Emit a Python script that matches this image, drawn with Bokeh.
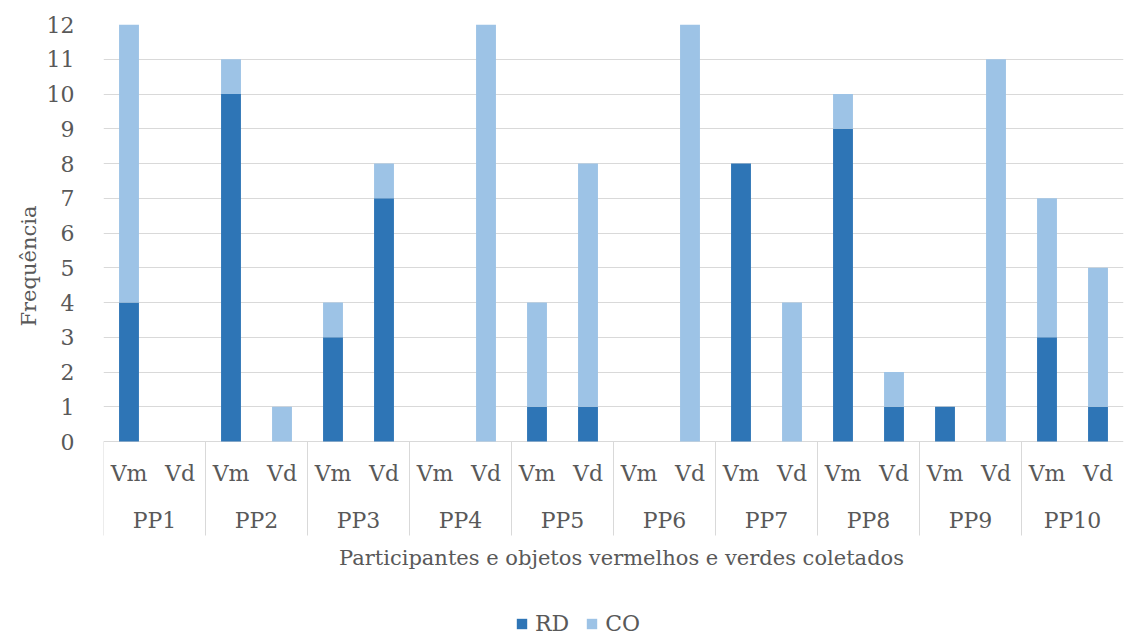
from bokeh.core.properties import value
from bokeh.embed import file_html
from bokeh.models import ColumnDataSource, FixedTicker, Legend, LegendItem, Range1d, Title
from bokeh.plotting import figure
from bokeh.resources import INLINE

# --- data -------------------------------------------------------------
participants = ["PP1", "PP2", "PP3", "PP4", "PP5", "PP6", "PP7", "PP8", "PP9", "PP10"]
object_colours = ["Vm", "Vd"]
rd_counts = [4, 0, 10, 0, 3, 7, 0, 0, 1, 1, 0, 0, 8, 0, 9, 1, 1, 0, 3, 1]
co_counts = [8, 0, 1, 1, 1, 1, 0, 12, 3, 7, 0, 12, 0, 4, 1, 1, 0, 11, 4, 4]
y_ticks = list(range(0, 13))
series_names = ["RD", "CO"]
series_colors = ["#2E75B6", "#9DC3E6"]

# --- layout -----------------------------------------------------------
W, H = 1126, 636
LEFT, RIGHT, TOP = 103, 3, 24
FRAME_W = W - LEFT - RIGHT
Y_MAX = 12
ZERO_PX = 441
PX_PER_UNIT = (ZERO_PX - TOP) / Y_MAX
SLOT_PX = FRAME_W / (len(participants) * len(object_colours))

SERIF = "DejaVu Serif"
FONT = value(SERIF)
LABEL_SIZE = "22px"
TITLE_SIZE = "21px"
TEXT_COLOR = "#595959"
GRID_COLOR = "#D9D9D9"


def y_at(px):
    return Y_MAX - (px - TOP) / PX_PER_UNIT


def x_at(px):
    return (px - LEFT) / SLOT_PX


n_slots = len(participants) * len(object_colours)
slot_x = [i + 0.5 for i in range(n_slots)]
slot_labels = [object_colours[i % 2] for i in range(n_slots)]
group_x = [2 * i + 1 for i in range(len(participants))]

source = ColumnDataSource(dict(x=slot_x, RD=rd_counts, CO=co_counts))

p = figure(
    width=W,
    height=H,
    output_backend="svg",
    toolbar_location=None,
    x_range=Range1d(0, n_slots),
    y_range=Range1d(y_at(H), Y_MAX),
    min_border_left=LEFT,
    min_border_right=RIGHT,
    min_border_top=TOP,
    min_border_bottom=0,
)
p.outline_line_color = None
p.background_fill_color = "white"
p.border_fill_color = "white"

# axes and grid
p.xaxis.visible = False
p.xgrid.visible = False
p.yaxis.ticker = FixedTicker(ticks=y_ticks)
p.yaxis.axis_line_color = None
p.yaxis.major_tick_line_color = None
p.yaxis.minor_tick_line_color = None
p.yaxis.major_label_standoff = 23
p.yaxis.major_label_text_font = SERIF
p.yaxis.major_label_text_font_size = LABEL_SIZE
p.yaxis.major_label_text_color = TEXT_COLOR
p.ygrid.ticker = FixedTicker(ticks=y_ticks)
p.ygrid.grid_line_color = GRID_COLOR
p.ygrid.grid_line_width = 1

# stacked bars
renderers = p.vbar_stack(
    series_names,
    x="x",
    width=0.39,
    color=series_colors,
    line_color=None,
    source=source,
)

# category axis: separators and two rows of labels
sep_x = [2 * i for i in range(len(participants))]
p.segment(
    x0=sep_x, y0=[0] * len(sep_x), x1=sep_x, y1=[y_at(535)] * len(sep_x),
    line_color=GRID_COLOR, line_width=1,
)
p.text(
    x=slot_x, y=[y_at(473)] * n_slots, text=slot_labels,
    text_font=FONT, text_font_size=LABEL_SIZE, text_color=TEXT_COLOR,
    text_align="center", text_baseline="middle",
)
p.text(
    x=group_x, y=[y_at(520)] * len(group_x), text=participants,
    text_font=FONT, text_font_size=LABEL_SIZE, text_color=TEXT_COLOR,
    text_align="center", text_baseline="middle",
)
p.text(
    x=[x_at(621)], y=[y_at(557)], text=["Participantes e objetos vermelhos e verdes coletados"],
    text_font=FONT, text_font_size=TITLE_SIZE, text_color=TEXT_COLOR,
    text_align="center", text_baseline="middle",
)

# vertical axis title
p.add_layout(Title(
    text="Frequência", align="left", offset=310, standoff=6,
    text_font=SERIF, text_font_size=TITLE_SIZE, text_color=TEXT_COLOR,
    text_font_style="normal",
), "left")

legend = Legend(
    items=[LegendItem(label=n, renderers=[r]) for n, r in zip(series_names, renderers)],
    orientation="horizontal",
    location=(515 - LEFT, 0),
    background_fill_alpha=0,
    border_line_color=None,
    padding=0,
    margin=0,
    spacing=16,
    label_standoff=7,
    glyph_width=13,
    glyph_height=13,
    label_text_font=SERIF,
    label_text_font_size=LABEL_SIZE,
    label_text_color=TEXT_COLOR,
)
p.add_layout(legend)

open("out.html", "w").write(file_html(p, INLINE))
